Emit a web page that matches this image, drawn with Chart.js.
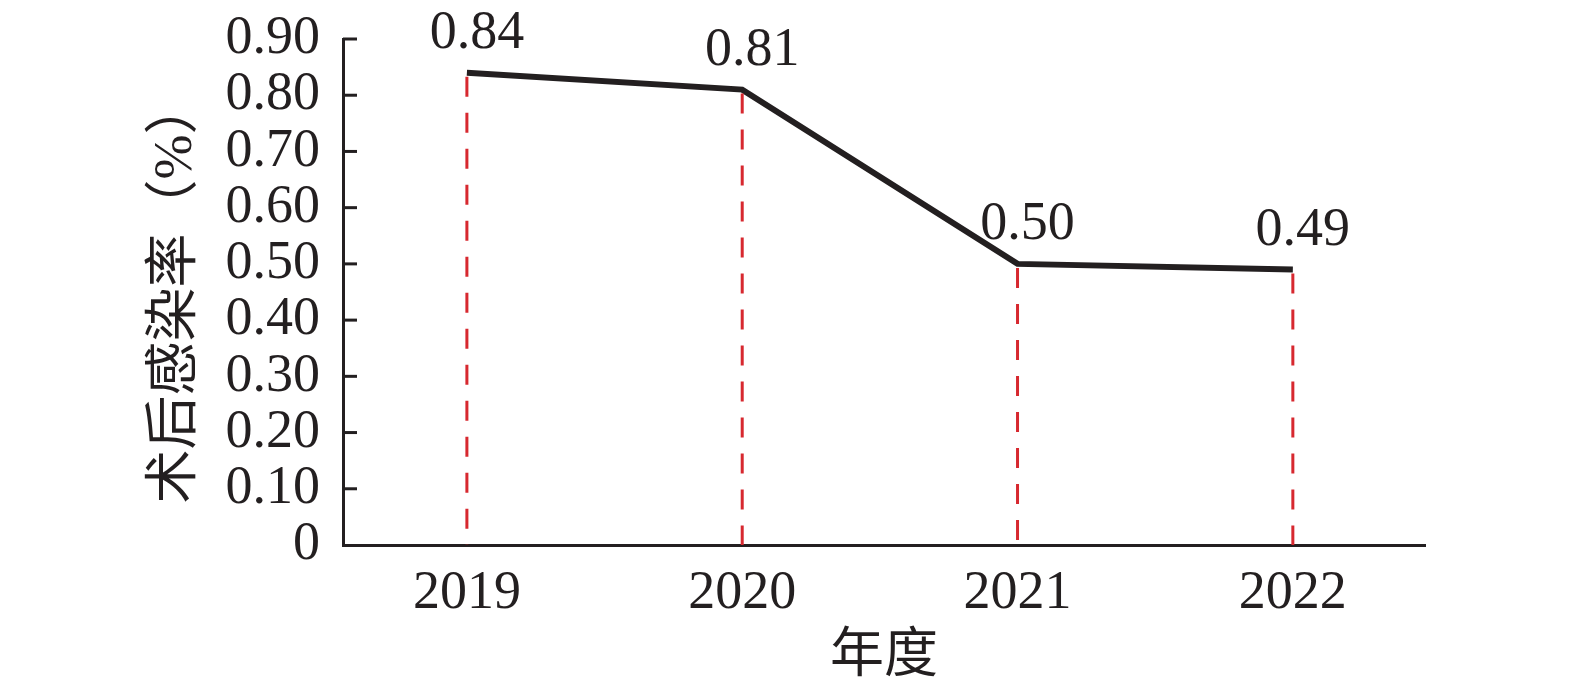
<!DOCTYPE html>
<html>
<head>
<meta charset="utf-8">
<script src="https://cdn.jsdelivr.net/npm/chart.js@4.4.0/dist/chart.umd.min.js"></script>
<style>
  html, body { margin: 0; padding: 0; background: #ffffff; }
  #wrap { width: 1575px; height: 694px; }
</style>
</head>
<body>
<div id="wrap"><canvas id="myLineChart" width="1575" height="694"></canvas></div>
<script>
const years = ["2019", "2020", "2021", "2022"];
const infectionRates = [0.84, 0.81, 0.50, 0.49];
const rateLabels = ["0.84", "0.81", "0.50", "0.49"];
const yTickLabels = ["0", "0.10", "0.20", "0.30", "0.40", "0.50", "0.60", "0.70", "0.80", "0.90"];
const xTitle = "年度";
const yTitle = "术后感染率（%）";

const ink = '#231f20';
const serif = '"Liberation Serif", "Noto Sans CJK SC", serif';

// red dashed drop lines, inward y ticks and value labels
const decorations = {
    id: 'decorations',
    afterDatasetsDraw(chart) {
        const ctx = chart.ctx;
        const x = chart.scales.x;
        const y = chart.scales.y;
        const area = chart.chartArea;

        ctx.save();
        // drop lines
        ctx.strokeStyle = '#d7282f';
        ctx.lineWidth = 3;
        ctx.setLineDash([20, 16]);
        infectionRates.forEach((v, i) => {
            const px = x.getPixelForValue(i);
            ctx.beginPath();
            ctx.moveTo(px, y.getPixelForValue(v) + 4);
            ctx.lineTo(px, area.bottom);
            ctx.stroke();
        });
        ctx.setLineDash([]);

        // inward ticks on y axis
        ctx.strokeStyle = ink;
        ctx.lineWidth = 3;
        y.ticks.forEach(t => {
            if (t.value === 0) return;
            const py = y.getPixelForValue(t.value);
            ctx.beginPath();
            ctx.moveTo(area.left, py);
            ctx.lineTo(area.left + 14, py);
            ctx.stroke();
        });

        // value labels
        ctx.fillStyle = ink;
        ctx.font = '54px ' + serif;
        ctx.textAlign = 'center';
        ctx.textBaseline = 'alphabetic';
        infectionRates.forEach((v, i) => {
            ctx.fillText(rateLabels[i], x.getPixelForValue(i) + 10, y.getPixelForValue(v) - 25);
        });
        ctx.restore();
    }
};

const lineConfig = {
    type: 'line',
    data: {
        datasets: [{
            data: years.map((yr, i) => ({ x: i, y: infectionRates[i] })),
            borderColor: ink,
            borderWidth: 6,
            pointRadius: 0,
            tension: 0,
            fill: false
        }]
    },
    options: {
        responsive: false,
        animation: false,
        layout: {
            padding: { top: 39, right: 150, bottom: 0, left: 0 }
        },
        scales: {
            x: {
                type: 'linear',
                min: -0.45,
                max: 3.48,
                afterBuildTicks: scale => {
                    scale.ticks = years.map((yr, i) => ({ value: i }));
                },
                afterFit: scale => { scale.height = 149; },
                grid: { drawOnChartArea: false, drawTicks: false },
                border: { display: true, width: 3, color: ink },
                ticks: {
                    padding: 16,
                    color: ink,
                    autoSkip: false,
                    maxRotation: 0,
                    font: { family: serif, size: 54 },
                    callback: v => years[v]
                },
                title: {
                    display: true,
                    text: xTitle,
                    color: ink,
                    font: { family: serif, size: 54 },
                    padding: { top: 0, bottom: 4 }
                }
            },
            y: {
                min: 0,
                max: 0.9,
                afterFit: scale => {
                    scale.width = 343;
                    scale.paddingTop = 0;
                    scale.paddingBottom = 0;
                },
                grid: { drawOnChartArea: false, drawTicks: false },
                border: { display: true, width: 3, color: ink },
                ticks: {
                    stepSize: 0.1,
                    padding: 23,
                    autoSkip: false,
                    color: ink,
                    font: { family: serif, size: 54 },
                    callback: (v, i) => yTickLabels[i]
                },
                title: {
                    display: true,
                    text: yTitle,
                    color: ink,
                    font: { family: serif, size: 54 },
                    padding: { top: 144, bottom: 0 }
                }
            }
        },
        plugins: {
            legend: { display: false },
            tooltip: { enabled: false }
        }
    },
    plugins: [decorations]
};

var ctx = document.getElementById("myLineChart");
var myLineChart = new Chart(ctx, lineConfig);
</script>
</body>
</html>
